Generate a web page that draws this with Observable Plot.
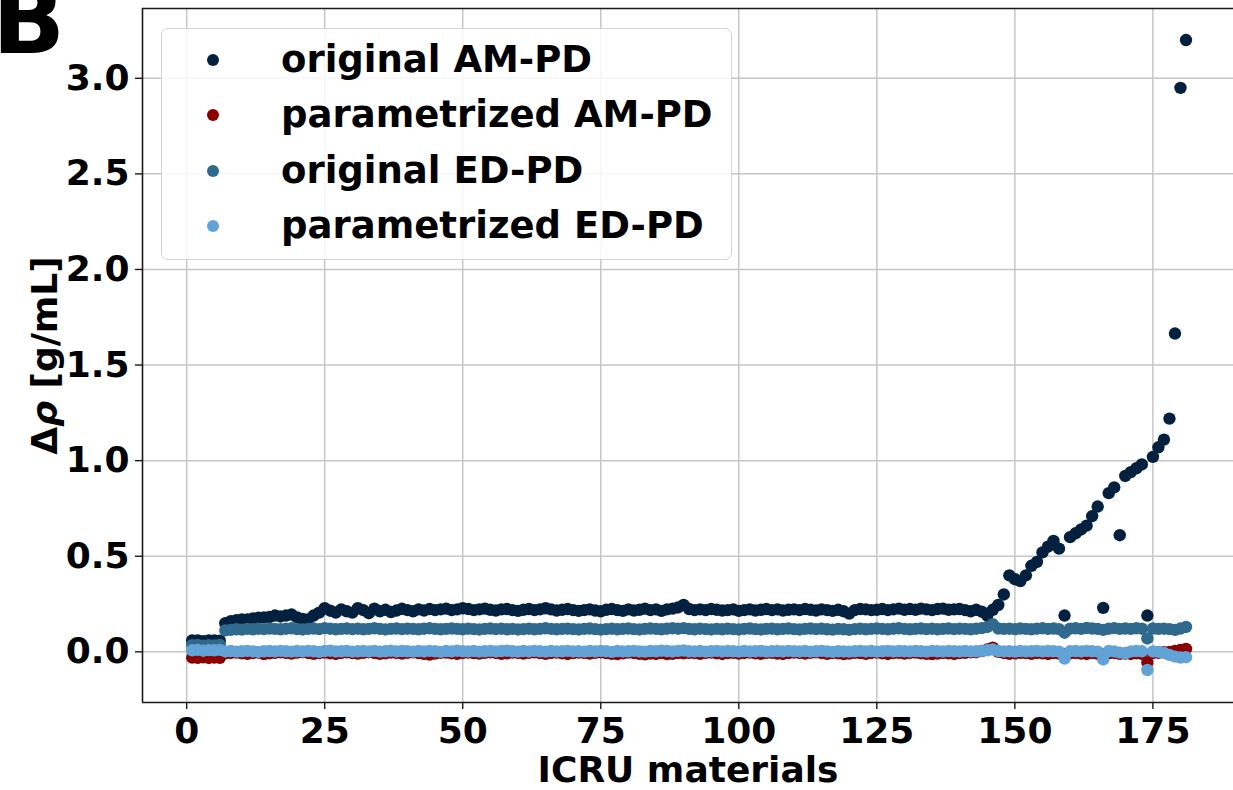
<!DOCTYPE html>
<html>
<head>
<meta charset="utf-8">
<script src="https://cdn.jsdelivr.net/npm/d3@7"></script>
<script src="https://cdn.jsdelivr.net/npm/@observablehq/plot@0.6"></script>
<style>
  body { margin: 0; background: #fff; }
  #wrap { position: relative; width: 1233px; height: 790px; overflow: hidden;
          font-family: "DejaVu Sans", sans-serif; font-weight: bold; color: #000; }
  #legend { position: absolute; left: 161px; top: 28px; width: 571px; height: 232px;
            box-sizing: border-box; border: 1.5px solid #d2d2d2; border-radius: 7px;
            background: rgba(255,255,255,0.85); }
  #legend .row { position: absolute; left: 0; height: 50px; width: 100%; }
  #legend .mark { position: absolute; left: 45px; top: 19px; width: 12px; height: 12px; border-radius: 50%; }
  #legend .label { position: absolute; left: 119px; top: 0; height: 50px; line-height: 50px;
                   font-size: 37px; white-space: nowrap; }
</style>
</head>
<body>
<div id="wrap"></div>
<script>
// Material index along the x axis (ICRU materials 1..181)
const materials = d3.range(1, 182);

const seriesNames = ["original AM-PD", "parametrized AM-PD", "original ED-PD", "parametrized ED-PD"];
const seriesColors = ["#03213f", "#8b0000", "#2f6a8e", "#62a3d7"];

// Δρ [g/mL] per material
const amOriginal = [
  0.06, 0.06, 0.055, 0.06, 0.06, 0.058, 0.15, 0.16, 0.165, 0.17,
  0.17, 0.175, 0.178, 0.18, 0.182, 0.19, 0.185, 0.19, 0.195, 0.18,
  0.172, 0.17, 0.19, 0.205, 0.228, 0.215, 0.205, 0.222, 0.212, 0.205,
  0.228, 0.218, 0.202, 0.226, 0.212, 0.22, 0.208, 0.216, 0.225, 0.218,
  0.212, 0.222, 0.216, 0.224, 0.218, 0.222, 0.226, 0.218, 0.222, 0.228,
  0.224, 0.218, 0.222, 0.226, 0.22, 0.216, 0.222, 0.224, 0.218, 0.214,
  0.22, 0.224, 0.218, 0.222, 0.228, 0.222, 0.216, 0.22, 0.224, 0.218,
  0.214, 0.218, 0.222, 0.216, 0.212, 0.22, 0.224, 0.218, 0.214, 0.222,
  0.216, 0.22, 0.226, 0.218, 0.222, 0.214, 0.222, 0.226, 0.232, 0.245,
  0.224, 0.218, 0.222, 0.218, 0.224, 0.22, 0.216, 0.218, 0.222, 0.214,
  0.218, 0.222, 0.216, 0.22, 0.224, 0.218, 0.222, 0.216, 0.22, 0.222,
  0.218, 0.224, 0.22, 0.216, 0.222, 0.218, 0.214, 0.22, 0.212, 0.2,
  0.218, 0.224, 0.222, 0.218, 0.22, 0.224, 0.218, 0.222, 0.226, 0.22,
  0.224, 0.22, 0.226, 0.222, 0.218, 0.224, 0.226, 0.22, 0.222, 0.224,
  0.218, 0.212, 0.22, 0.21, 0.19, 0.22, 0.245, 0.3, 0.4, 0.38,
  0.37, 0.4, 0.45, 0.47, 0.52, 0.55, 0.58, 0.54, 0.19, 0.6,
  0.62, 0.64, 0.66, 0.71, 0.76, 0.23, 0.83, 0.86, 0.61, 0.92,
  0.94, 0.96, 0.98, 0.19, 1.02, 1.07, 1.11, 1.22, 1.665, 2.95, 3.2
];

const amParametrized = [
  -0.03, -0.031, -0.029, -0.032, -0.03, -0.031, -0.008, -0.006, -0.004, -0.008,
  -0.01, -0.006, -0.004, -0.012, -0.008, -0.005, -0.003, -0.006, -0.009, -0.004,
  -0.002, -0.006, -0.01, -0.007, -0.004, -0.008, -0.011, -0.006, -0.003, -0.007,
  -0.009, -0.005, -0.002, -0.006, -0.01, -0.008, -0.004, -0.006, -0.009, -0.005,
  -0.003, -0.007, -0.011, -0.014, -0.009, -0.005, -0.004, -0.008, -0.01, -0.006,
  -0.004, -0.007, -0.009, -0.005, -0.003, -0.006, -0.01, -0.008, -0.004, -0.006,
  -0.009, -0.005, -0.003, -0.007, -0.01, -0.006, -0.004, -0.008, -0.011, -0.007,
  -0.004, -0.006, -0.009, -0.005, -0.003, -0.007, -0.01, -0.012, -0.008, -0.004,
  -0.006, -0.01, -0.013, -0.009, -0.011, -0.007, -0.012, -0.01, -0.006, -0.008,
  -0.005, -0.007, -0.01, -0.006, -0.004, -0.008, -0.011, -0.007, -0.005, -0.009,
  -0.006, -0.004, -0.008, -0.01, -0.006, -0.005, -0.009, -0.011, -0.007, -0.004,
  -0.006, -0.009, -0.005, -0.003, -0.007, -0.01, -0.006, -0.008, -0.012, -0.009,
  -0.005, -0.007, -0.01, -0.006, -0.004, -0.008, -0.011, -0.007, -0.005, -0.009,
  -0.006, -0.004, -0.008, -0.01, -0.012, -0.009, -0.006, -0.008, -0.011, -0.007,
  -0.005, -0.003, -0.002, 0.004, 0.012, 0.022, 0.0, -0.006, -0.01, -0.008,
  -0.005, -0.007, -0.01, -0.006, -0.008, -0.011, -0.007, -0.009, -0.012, -0.008,
  -0.006, -0.009, -0.011, -0.007, -0.01, -0.012, -0.008, -0.006, -0.01, -0.009,
  -0.011, -0.008, -0.01, -0.055, -0.006, -0.005, -0.002, 0.0, 0.004, 0.01, 0.015
];

const edOriginal = [
  0.035, 0.036, 0.032, 0.035, 0.034, 0.036, 0.112, 0.115, 0.118, 0.116,
  0.12, 0.118, 0.121, 0.119, 0.122, 0.12, 0.118, 0.121, 0.123, 0.119,
  0.117, 0.12, 0.122, 0.119, 0.124, 0.121, 0.118, 0.12, 0.122, 0.119,
  0.121, 0.118, 0.12, 0.123, 0.12, 0.117, 0.12, 0.122, 0.119, 0.121,
  0.12, 0.118, 0.121, 0.123, 0.12, 0.118, 0.12, 0.122, 0.12, 0.118,
  0.121, 0.119, 0.117, 0.12, 0.122, 0.119, 0.121, 0.118, 0.12, 0.117,
  0.119, 0.121, 0.118, 0.12, 0.123, 0.12, 0.118, 0.12, 0.121, 0.119,
  0.117, 0.12, 0.122, 0.119, 0.116, 0.119, 0.121, 0.118, 0.12, 0.122,
  0.119, 0.117, 0.12, 0.122, 0.12, 0.118, 0.121, 0.123, 0.121, 0.124,
  0.12, 0.118, 0.121, 0.119, 0.117, 0.12, 0.118, 0.121, 0.119, 0.117,
  0.12, 0.122, 0.119, 0.117, 0.12, 0.121, 0.118, 0.12, 0.122, 0.119,
  0.117, 0.12, 0.122, 0.119, 0.121, 0.118, 0.116, 0.12, 0.118, 0.115,
  0.119, 0.121, 0.118, 0.12, 0.122, 0.12, 0.118, 0.121, 0.123, 0.12,
  0.118, 0.12, 0.122, 0.119, 0.121, 0.118, 0.12, 0.122, 0.119, 0.121,
  0.12, 0.118, 0.121, 0.124, 0.13, 0.145, 0.122, 0.12, 0.121, 0.119,
  0.122, 0.12, 0.118, 0.121, 0.123, 0.12, 0.122, 0.119, 0.1, 0.121,
  0.123, 0.12, 0.125, 0.122, 0.12, 0.115, 0.121, 0.124, 0.12, 0.122,
  0.12, 0.123, 0.121, 0.07, 0.122, 0.12, 0.121, 0.119, 0.115, 0.122, 0.13
];

const edParametrized = [
  0.008, 0.01, 0.006, 0.009, 0.008, 0.01, 0.002, 0.004, 0.001, 0.003,
  0.005, 0.002, 0.0, 0.003, 0.004, 0.002, 0.005, 0.003, 0.001, 0.004,
  0.002, 0.005, 0.003, 0.0, 0.004, 0.006, 0.002, 0.003, 0.005, 0.001,
  0.003, 0.004, 0.002, 0.005, 0.001, 0.003, 0.006, 0.002, 0.004, 0.003,
  0.001, 0.004, 0.002, 0.005, 0.003, 0.0, 0.004, 0.002, 0.006, 0.003,
  0.002, 0.004, 0.001, 0.003, 0.005, 0.002, 0.004, 0.006, 0.003, 0.001,
  0.004, 0.002, 0.005, 0.003, 0.001, 0.004, 0.002, 0.003, 0.005, 0.002,
  0.003, 0.001, 0.004, 0.002, 0.005, 0.003, 0.0, 0.004, 0.002, 0.003,
  0.005, 0.002, 0.001, 0.004, 0.003, 0.006, 0.004, 0.002, 0.005, 0.007,
  0.003, 0.002, 0.004, 0.001, 0.003, 0.005, 0.002, 0.004, 0.003, 0.001,
  0.004, 0.002, 0.003, 0.005, 0.001, 0.003, 0.004, 0.002, 0.005, 0.003,
  0.002, 0.004, 0.001, 0.003, 0.005, 0.002, 0.0, 0.003, 0.002, 0.001,
  0.003, 0.005, 0.002, 0.004, 0.001, 0.003, 0.005, 0.002, 0.004, 0.003,
  0.002, 0.004, 0.003, 0.001, 0.005, 0.003, 0.002, 0.004, 0.003, 0.002,
  0.004, 0.002, 0.003, 0.005, 0.008, 0.012, 0.004, 0.002, 0.003, 0.001,
  0.004, 0.002, 0.003, 0.005, 0.002, 0.004, 0.003, 0.001, -0.035, 0.003,
  0.004, 0.002, 0.005, 0.003, 0.001, -0.04, 0.004, 0.002, -0.004, -0.008,
  0.002, 0.004, 0.003, -0.095, 0.002, 0.0, -0.006, -0.016, -0.025, -0.03, -0.028
];

const xTicks = [0, 25, 50, 75, 100, 125, 150, 175];
const yTicks = [0, 0.5, 1.0, 1.5, 2.0, 2.5, 3.0];
const xLabel = "ICRU materials";
const yLabel = "Δρ [g/mL]";
const panelLetter = "B";

// Long-form table, drawn series by series so later series sit on top
const seriesValues = [amOriginal, amParametrized, edOriginal, edParametrized];
const rows = seriesNames.flatMap((name, s) =>
  materials.map((m, i) => ({series: name, material: m, delta: seriesValues[s][i]}))
);

const xDomain = [-8, 189.6];
const yDomain = [-0.265, 3.365];
const spine = {stroke: "#1a1a1a", strokeWidth: 1.6};
const grid = {stroke: "#c6c6c6", strokeOpacity: 1, strokeWidth: 1.5};

const chart = Plot.plot({
  width: 1233,
  height: 790,
  marginLeft: 142,
  marginRight: 0,
  marginTop: 8,
  marginBottom: 88,
  x: {domain: xDomain},
  y: {domain: yDomain},
  color: {domain: seriesNames, range: seriesColors},
  style: {
    fontFamily: "DejaVu Sans, sans-serif",
    fontWeight: "bold",
    fontSize: "36px",
    color: "#000",
    background: "#fff",
    overflow: "visible"
  },
  marks: [
    Plot.gridX({ticks: xTicks, ...grid}),
    Plot.gridY({ticks: yTicks, ...grid}),
    Plot.dot(rows, {x: "material", y: "delta", fill: "series", r: 6.2, stroke: null}),
    Plot.ruleX([xDomain[0]], spine),
    Plot.ruleY(yDomain, spine),
    Plot.axisX({ticks: xTicks, tickSize: 7, tickPadding: 8, label: null, tickFormat: d => String(d), stroke: "#1a1a1a", strokeWidth: 1.4}),
    Plot.axisY({ticks: yTicks, tickSize: 7, tickPadding: 6, label: null, tickFormat: d3.format(".1f"), stroke: "#1a1a1a", strokeWidth: 1.4}),
    Plot.text([xLabel], {text: d => d, frameAnchor: "bottom", lineAnchor: "middle", textAnchor: "middle", dy: 68, fill: "#000"}),
    Plot.text([yLabel], {text: d => d, frameAnchor: "left", lineAnchor: "middle", textAnchor: "middle", dx: -97, rotate: -90, fill: "#000"})
  ]
});

// Italic rho in the y-axis label
d3.select(chart).selectAll("text").filter(function () { return this.textContent === yLabel; })
  .each(function () {
    const t = d3.select(this);
    t.text(null);
    t.append("tspan").text("Δ");
    t.append("tspan").attr("font-style", "italic").text("ρ");
    t.append("tspan").text(" [g/mL]");
  });

// Panel letter
d3.select(chart).append("text")
  .attr("x", -8).attr("y", 53)
  .attr("text-anchor", "start")
  .attr("font-size", 96).attr("font-weight", "bold").attr("fill", "#000")
  .text(panelLetter);

const wrap = document.getElementById("wrap");
wrap.appendChild(chart);

// Legend box over the upper-left of the plotting area
const legend = document.createElement("div");
legend.id = "legend";
seriesNames.forEach((name, i) => {
  const row = document.createElement("div");
  row.className = "row";
  row.style.top = (6 + i * 55.3) + "px";
  const mark = document.createElement("span");
  mark.className = "mark";
  mark.style.background = seriesColors[i];
  const label = document.createElement("span");
  label.className = "label";
  label.textContent = name;
  row.appendChild(mark);
  row.appendChild(label);
  legend.appendChild(row);
});
wrap.appendChild(legend);
</script>
</body>
</html>
